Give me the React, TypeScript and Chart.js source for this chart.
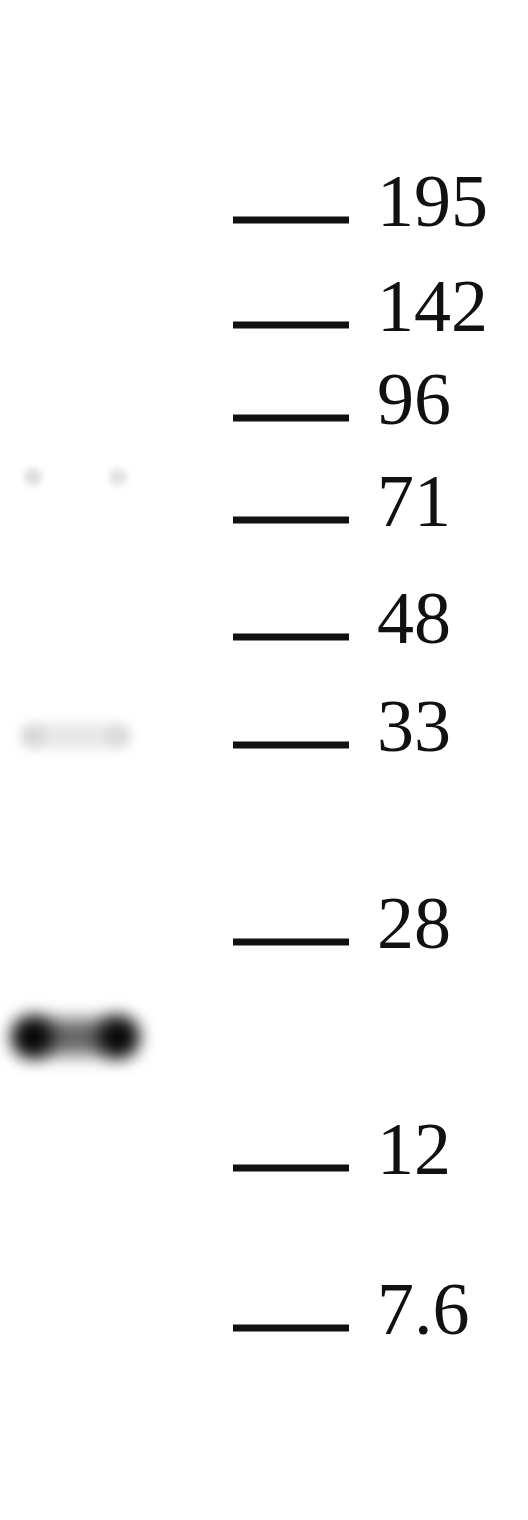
import React, { useRef, useEffect } from 'react';
import { Chart, registerables } from 'chart.js';

Chart.register(...registerables);

// marker ladder (kDa) and migration distance of each marker band
const markerLabels = ['195', '142', '96', '71', '48', '33', '28', '12', '7.6'];
const markerPos = [220, 325, 418, 520, 637, 745, 942, 1168, 1328];

// sample lanes and their bands
const laneCenters = [33, 118];
const bandPos = [477, 736, 1037];
const lane1Intensity = [0.13, 0.07, 0.97];
const lane2Intensity = [0.11, 0.06, 0.95];

// drawing styles (not data)
const LADDER_X0 = 233;
const LADDER_X1 = 349;
const LABEL_X = 377;
const bandStyle = [
  { lobe: 9, bridge: 0, bridgeAlpha: 0, blur: 3 },
  { lobe: 13, bridge: 26, bridgeAlpha: 0.09, blur: 6 },
  { lobe: 20, bridge: 36, bridgeAlpha: 0.6, blur: 9 },
];

const blurPlugin = {
  id: 'blurBands',
  beforeDatasetDraw(chart: any, args: any) {
    const ds: any = chart.data.datasets[args.index];
    chart.ctx.save();
    if (ds.blur) chart.ctx.filter = `blur(${ds.blur}px)`;
  },
  afterDatasetDraw(chart: any) {
    chart.ctx.restore();
  },
};

const labelPlugin = {
  id: 'markerLabels',
  afterDatasetsDraw(chart: any) {
    const { ctx, scales } = chart;
    ctx.save();
    ctx.fillStyle = '#111';
    ctx.font = '74px "Liberation Serif", "Times New Roman", serif';
    ctx.textAlign = 'left';
    ctx.textBaseline = 'alphabetic';
    markerLabels.forEach((label, i) => {
      const x = scales.x.getPixelForValue(LABEL_X);
      const y = scales.y.getPixelForValue(markerPos[i]);
      ctx.fillText(label, x, y + 6);
    });
    ctx.restore();
  },
};

const App: React.FC = () => {
  const canvasRef = useRef<HTMLCanvasElement>(null);
  const chartRef = useRef<Chart | null>(null);

  useEffect(() => {
    document.body.style.margin = '0';
    if (!canvasRef.current) return;
    const ctx = canvasRef.current.getContext('2d');
    if (!ctx) return;
    if (chartRef.current) chartRef.current.destroy();

    const bandSets: any[] = bandPos.map((pos, i) => {
      const st = bandStyle[i];
      const lobeColors = [lane1Intensity[i], lane2Intensity[i]].map(a => `rgba(0,0,0,${a})`);
      return {
        label: `band ${i}`,
        data: laneCenters.map(x => ({ x, y: pos })),
        showLine: st.bridge > 0,
        borderWidth: st.bridge,
        borderColor: `rgba(0,0,0,${st.bridgeAlpha})`,
        borderCapStyle: 'round',
        pointRadius: st.lobe,
        pointBorderWidth: 0,
        pointBackgroundColor: lobeColors,
        blur: st.blur,
      };
    });

    const markerSets: any[] = markerPos.map((pos, i) => ({
      label: markerLabels[i],
      data: [{ x: LADDER_X0, y: pos }, { x: LADDER_X1, y: pos }],
      showLine: true,
      borderWidth: 7,
      borderColor: '#111',
      borderCapStyle: 'butt',
      pointRadius: 0,
      blur: 0.6,
    }));

    chartRef.current = new Chart(ctx, {
      type: 'scatter',
      data: { datasets: [...bandSets, ...markerSets] },
      options: {
        animation: false,
        responsive: true,
        maintainAspectRatio: false,
        events: [],
        layout: { padding: 0, autoPadding: false },
        plugins: { legend: { display: false }, tooltip: { enabled: false } },
        scales: {
          x: { type: 'linear', min: 0, max: 528, display: false },
          y: { type: 'linear', min: 0, max: 1520, reverse: true, display: false },
        },
      },
      plugins: [blurPlugin, labelPlugin],
    });

    return () => {
      if (chartRef.current) {
        chartRef.current.destroy();
        chartRef.current = null;
      }
    };
  }, []);

  return (
    <div style={{ position: 'absolute', left: 0, top: 0, width: '528px', height: '1520px', background: '#fff' }}>
      <canvas ref={canvasRef} />
    </div>
  );
};

export default App;
